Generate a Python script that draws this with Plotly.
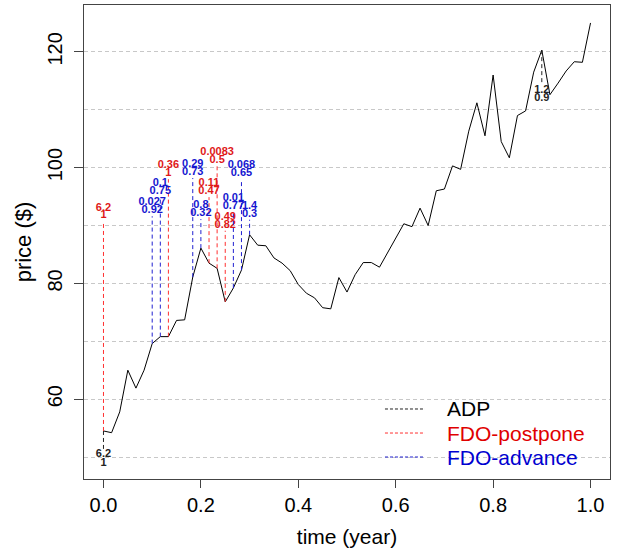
import numpy as np
import plotly.graph_objects as go

# ---------------- data ----------------
time = np.linspace(0, 1, 61)
price = [54.5, 54.2, 57.8, 65.0, 61.9, 65.0, 69.6, 70.8, 70.8, 73.6,
         73.7, 81.1, 86.1, 83.5, 82.6, 76.8, 79.2, 82.3, 88.4, 86.6,
         86.5, 84.4, 83.5, 82.2, 79.8, 78.3, 77.5, 75.8, 75.6, 81.0,
         78.5, 81.5, 83.6, 83.6, 82.8, 85.3, 87.8, 90.3, 89.8, 93.0,
         90.0, 96.0, 96.3, 100.3, 99.7, 106.3, 111.2, 105.5, 116.0, 104.5,
         101.7, 109.0, 109.8, 116.5, 120.3, 112.6, 114.6, 116.7, 118.3, 118.2,
         125.0]

adp_t = [0.0, 0.9]
adp_level = [51.4, 114.4]
adp_top = ["6.2", "1.2"]
adp_bot = ["1", "0.9"]

post_t = [0.0, 0.1333, 0.2167, 0.2333, 0.25]
post_level = [90.7, 98.0, 94.9, 100.3, 89.1]
post_top = ["6.2", "0.36", "0.11", "0.0083", "0.49"]
post_bot = ["1", "1", "0.47", "0.5", "0.82"]

adv_t = [0.1, 0.1167, 0.1833, 0.2, 0.2667, 0.2833, 0.3]
adv_level = [91.6, 94.9, 98.2, 91.1, 92.4, 98.0, 91.0]
adv_top = ["0.027", "0.1", "0.29", "0.8", "0.01", "0.068", "1.4"]
adv_bot = ["0.92", "0.75", "0.73", "0.32", "0.77", "0.65", "0.3"]

legend_names = ["ADP", "FDO-postpone", "FDO-advance"]
legend_line_colors = ["#222222", "#ff3030", "#2020d0"]
legend_text_colors = ["black", "#e00000", "#0000d0"]

x_ticks = [0.0, 0.2, 0.4, 0.6, 0.8, 1.0]
y_ticks = [60, 80, 100, 120]

FONT = "Liberation Sans, Arial, sans-serif"

fig = go.Figure()
fig.add_trace(go.Scatter(x=time, y=price, mode="lines",
                         line=dict(color="black", width=1), showlegend=False,
                         hoverinfo="skip"))


def add_group(ts, levels, tops, bots, line_color, text_color, name):
    base = np.interp(ts, time, price)
    xs, ys = [], []
    tx, ty, tt = [], [], []
    for t, b, lv, a, c in zip(ts, base, levels, tops, bots):
        xs += [t, t, None]
        ys += [b, lv, None]
        if lv > b:
            tx += [t, t]; ty += [lv + 2.35, lv + 1.0]; tt += [a, c]
        else:
            tx += [t, t]; ty += [lv - 1.0, lv - 2.4]; tt += [a, c]
    fig.add_trace(go.Scatter(x=xs, y=ys, mode="lines", name=name, showlegend=False,
                             line=dict(color=line_color, width=1, dash="4px,3px"),
                             hoverinfo="skip"))
    fig.add_trace(go.Scatter(x=tx, y=ty, mode="text", text=tt, showlegend=False,
                             textposition="middle center",
                             textfont=dict(family=FONT, size=11, color=text_color,
                                           weight="bold"),
                             hoverinfo="skip"))


add_group(adp_t, adp_level, adp_top, adp_bot, legend_line_colors[0], "#222222", legend_names[0])
add_group(post_t, post_level, post_top, post_bot, legend_line_colors[1], "#e01818", legend_names[1])
add_group(adv_t, adv_level, adv_top, adv_bot, legend_line_colors[2], "#1515d0", legend_names[2])

# manual legend (paper coordinates)
rows_y = [0.1477, 0.0970, 0.0464]
for nm, lc, tc, yy in zip(legend_names, legend_line_colors, legend_text_colors, rows_y):
    fig.add_shape(type="line", xref="paper", yref="paper",
                  x0=0.5722, x1=0.6483, y0=yy, y1=yy,
                  line=dict(color=lc, width=1, dash="3px,2px"))
    fig.add_annotation(xref="paper", yref="paper", x=0.6863, y=yy,
                       xanchor="left", yanchor="middle", showarrow=False,
                       text=nm, font=dict(family=FONT, size=21, color=tc))

fig.update_layout(
    width=618, height=557,
    margin=dict(l=84, r=8, t=5, b=78),
    paper_bgcolor="white", plot_bgcolor="white",
    font=dict(family=FONT, size=20, color="black"),
    showlegend=False,
)
fig.update_xaxes(range=[-0.04, 1.04], tickvals=x_ticks,
                 ticktext=[f"{v:.1f}" for v in x_ticks],
                 ticks="outside", ticklen=8, tickcolor="#444",
                 showline=True, mirror=True, linecolor="#444", linewidth=1,
                 showgrid=False, zeroline=False,
                 title=dict(text="time (year)", font=dict(size=21), standoff=14))
fig.update_yaxes(range=[46.2, 128.1], tickvals=y_ticks,
                 ticks="outside", ticklen=9, tickcolor="#444", tickangle=-90,
                 ticklabelstandoff=4,
                 showline=True, mirror=True, linecolor="#444", linewidth=1,
                 showgrid=True, gridcolor="#c8c8c8", griddash="4px,3px",
                 zeroline=False,
                 minor=dict(tickvals=[50, 70, 90, 110], showgrid=True,
                            gridcolor="#c8c8c8", griddash="4px,3px", ticks=""),
                 title=dict(text="price ($)", font=dict(size=22), standoff=6))

fig.write_html("out.html")
